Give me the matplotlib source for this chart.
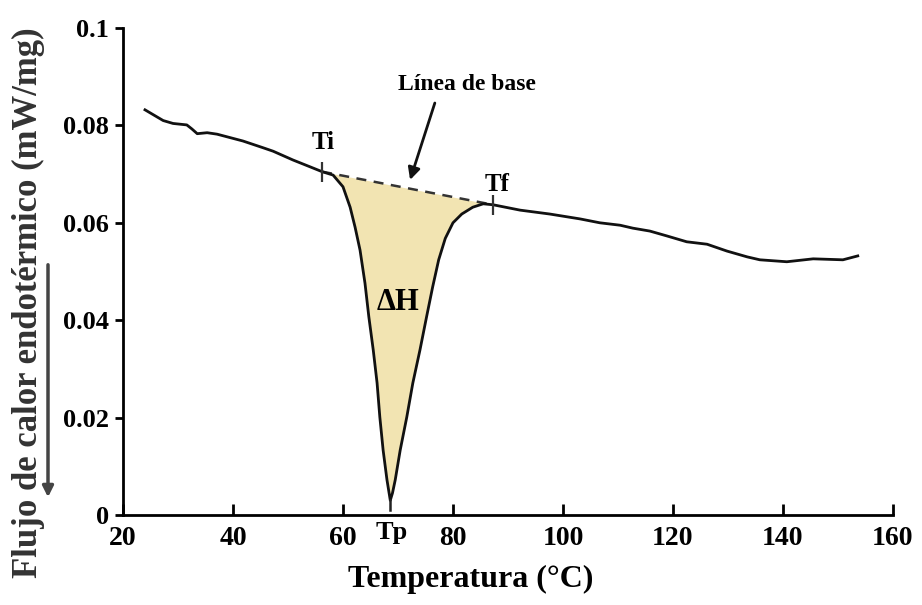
import numpy as np
import matplotlib.pyplot as plt

# DSC trace: temperature (°C) and heat flow (mW/mg)
temp = [24.0, 27.3, 29.1, 31.6, 32.5, 33.5, 35.3, 37.1, 41.8, 45.5, 47.3, 50.9, 54.0, 56.2,
        58.2, 60.0, 61.3, 62.2, 63.1, 64.0, 64.7, 65.5, 66.2, 66.7, 67.3, 68.0, 68.6,
        69.0, 69.5, 70.4, 71.6, 72.7, 74.0, 75.2, 76.3, 77.4, 78.6, 80.0, 81.6, 83.6, 85.5, 87.3,
        92.2, 97.6, 103.1, 106.7, 110.4, 112.7, 115.8, 118.9, 122.5, 126.2, 129.8, 133.5,
        135.8, 140.7, 145.5, 150.9, 153.6]
flow = [0.0832, 0.0810, 0.0804, 0.0801, 0.0793, 0.0783, 0.0785, 0.0782, 0.0768, 0.0754, 0.0747,
        0.0729, 0.0715, 0.0705,
        0.0698, 0.0674, 0.0632, 0.0591, 0.0544, 0.0476, 0.0407, 0.0339, 0.0271, 0.0201, 0.0133,
        0.0072, 0.0030,
        0.0045, 0.0072, 0.0133, 0.0201, 0.0271, 0.0339, 0.0407, 0.0468, 0.0524, 0.0568, 0.0600,
        0.0618, 0.0632, 0.0639, 0.0637,
        0.0626, 0.0618, 0.0608, 0.0600, 0.0595, 0.0589, 0.0583, 0.0573, 0.0561, 0.0556, 0.0542,
        0.0530, 0.0524, 0.0520, 0.0526, 0.0524, 0.0532]

t_i, h_i = 56.2, 0.0705
t_f, h_f = 87.3, 0.0637
t_p, h_p = 68.6, 0.0030

temp = np.array(temp)
flow = np.array(flow)

plt.rcParams['font.family'] = ['Liberation Serif', 'DejaVu Serif']
plt.rcParams['font.weight'] = 'bold'

fig = plt.figure(figsize=(9.22, 6.05), dpi=100)
ax = fig.add_axes([0.1334, 0.1488, 0.8351, 0.8049])

# peak area between the curve and the straight baseline Ti-Tf
m = (temp >= t_i) & (temp <= t_f)
base = h_i + (h_f - h_i) * (temp[m] - t_i) / (t_f - t_i)
ax.fill_between(temp[m], flow[m], base, where=flow[m] <= base, color='#f2e4b2', lw=0)
ax.plot([t_i, t_f], [h_i, h_f], color='#333333', lw=1.8, ls=(0, (4, 3)))
ax.plot(temp, flow, color='#111111', lw=2)

# markers for onset, end and peak temperature
ax.plot([t_i, t_f], [h_i, h_f], ls='none', marker='|', ms=14, mew=1.6, color='#333333')
ax.plot([t_p, t_p], [h_p, 0.001], color='#222222', lw=1.8)

ax.text(t_i + 0.2, h_i + 0.0059, 'Ti', ha='center', va='center', fontsize=18)
ax.text(t_f + 0.7, h_f + 0.0041, 'Tf', ha='center', va='center', fontsize=18)
ax.text(70.0, 0.0437, 'ΔH', ha='center', va='center', fontsize=22)
ax.text(t_p + 0.3, -0.0036, 'Tp', ha='center', va='center', fontsize=19, clip_on=False)
ax.text(82.5, 0.0885, 'Línea de base', ha='center', va='center', fontsize=17)
ax.annotate('', xy=(72.2, 0.0688), xytext=(76.7, 0.0846),
            arrowprops=dict(arrowstyle='-|>', color='#111111', lw=2, shrinkA=0, shrinkB=0,
                            mutation_scale=18))

ax.set_xlim(20, 160)
ax.set_ylim(0, 0.1)
ax.set_xticks([20, 40, 60, 80, 100, 120, 140, 160])
ax.set_yticks([0, 0.02, 0.04, 0.06, 0.08, 0.1])
ax.set_yticklabels(['0', '0.02', '0.04', '0.06', '0.08', '0.1'])
ax.spines['top'].set_visible(False)
ax.spines['right'].set_visible(False)
for s in ['left', 'bottom']:
    ax.spines[s].set_linewidth(2)
ax.tick_params(axis='y', direction='out', length=6, width=2, labelsize=19, pad=4)
ax.tick_params(axis='x', direction='in', length=8, width=2, labelsize=20, pad=8)

fig.text(0.51, 0.043, 'Temperatura (°C)', ha='center', va='center', fontsize=23)
fig.text(0.031, 0.5, 'Flujo de calor endotérmico (mW/mg)', rotation=90,
         ha='center', va='center', fontsize=25, color='#333333')

# downward arrow beside the axis title
fig.add_artist(plt.matplotlib.patches.FancyArrowPatch(
    (48 / 922, 1 - 262 / 605), (48 / 922, 1 - 500 / 605), transform=fig.transFigure,
    arrowstyle='-|>', mutation_scale=16, lw=2.5, color='#444444'))

fig.savefig('out.png', dpi=100)
